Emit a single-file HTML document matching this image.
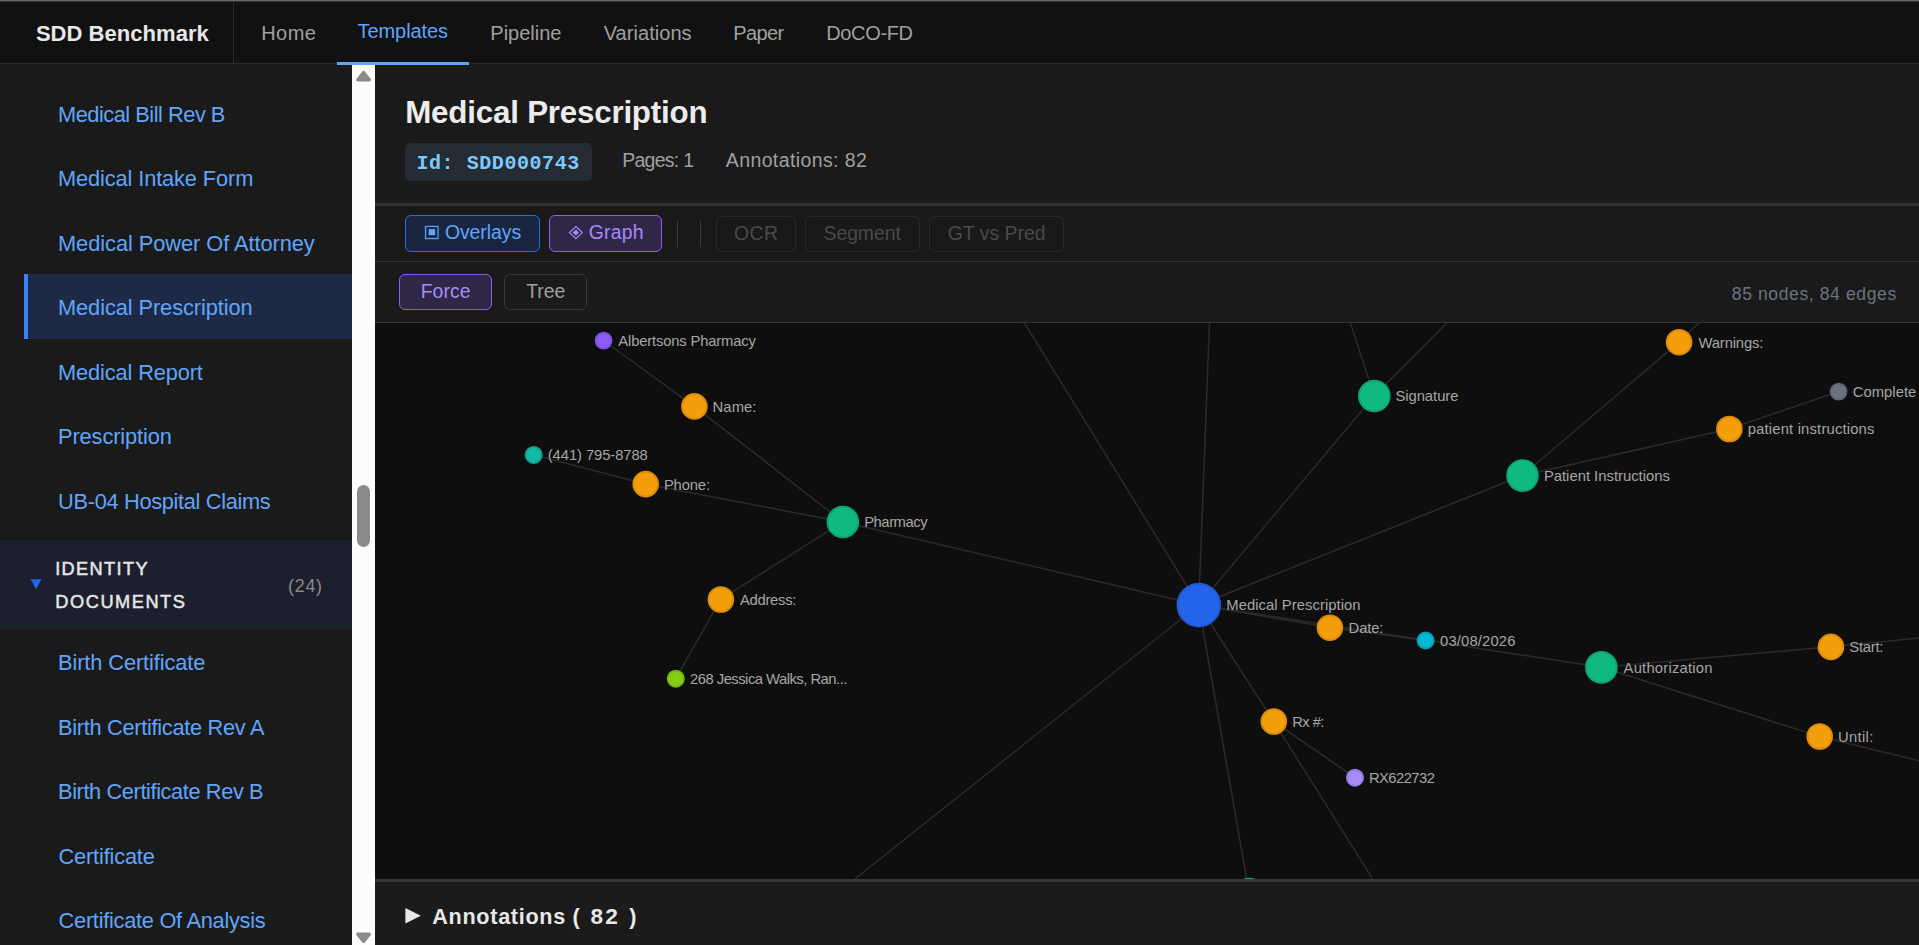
<!DOCTYPE html>
<html lang="en">
<head>
<meta charset="utf-8">
<title>SDD Benchmark - Medical Prescription</title>
<style>

html,body{margin:0;padding:0}
body{width:1919px;height:945px;overflow:hidden;position:relative;background:#1a1a1a;font-family:"Liberation Sans",sans-serif;color:#e5e5e5}
header,nav,aside,main,section,ul,li,details,summary,h1,code,.cat,.tools,.graphctl{display:block;margin:0;padding:0;border:0;list-style:none;position:static}
summary::-webkit-details-marker{display:none}
a{text-decoration:none}
button{all:unset}
.abs{position:absolute}
.tx{position:absolute;white-space:pre;line-height:1;margin:0;padding:0}
.topline0{left:0;top:0;width:1919px;height:1px;background:#676767}
.topline1{left:0;top:1px;width:1919px;height:1px;background:#323232}
.nav{left:0;top:2px;width:1919px;height:61px;background:#111111}
.navborder{left:0;top:63px;width:1919px;height:1px;background:#2a2a2a}
.navdiv{left:233px;top:2px;width:1px;height:62px;background:#2a2a2a}
.navactive{left:337px;top:62px;width:132px;height:3px;background:#60a5fa;z-index:3}
.sidebar{left:0;top:64px;width:352px;height:881px;background:#1a1a1a}
.item-active{left:24px;top:274px;width:328px;height:65px;background:#1e2945;box-sizing:border-box;border-left:4px solid #3b82f6}
.section{left:0;top:540px;width:352px;height:89px;background:#1c202e}
.sbar{left:352px;top:65px;width:23px;height:880px;background:#fcfcfc}
.thumb{left:357px;top:485px;width:13px;height:62px;border-radius:6.5px;background:#8b8b8b}
.main{left:375px;top:64px;width:1544px;height:881px;background:#1a1a1a}
.hdrborder{left:375px;top:203px;width:1544px;height:3px;background:#333333}
.toolbar{left:375px;top:206px;width:1544px;height:55px;background:#191919}
.tbborder{left:375px;top:261px;width:1544px;height:1px;background:#333333}
.gctl{left:375px;top:262px;width:1544px;height:60px;background:#1a1a1a}
.gborder{left:375px;top:322px;width:1544px;height:1px;background:#333333}
.graph{left:375px;top:323px;width:1544px;height:556px;background:#0e0e0e}
.graphbottom{left:375px;top:879px;width:1544px;height:3px;background:#353535}
.annot{left:375px;top:882px;width:1544px;height:63px;background:#1b1b1b}
.idbadge{left:405px;top:143px;width:187px;height:38px;border-radius:5px;background:#252b33}
.btn{position:absolute;box-sizing:border-box;border-radius:6px;border:1px solid #333;display:block;overflow:visible}
.sep{position:absolute;width:1.25px;background:#3a3a3a;top:220px;height:27px}

</style>
</head>
<body>
<div class="abs topline0"></div><div class="abs topline1"></div>
<header>
<div class="abs nav"></div><div class="abs navborder"></div><div class="abs navdiv"></div>
<a class="tx" href="#" style="left:35.88px;top:23.00px;font-family:'Liberation Sans', sans-serif;font-size:22px;font-weight:700;color:#e8e8e8;letter-spacing:0.045px;">SDD Benchmark</a>
<nav>
<a class="tx" href="#" style="left:261.20px;top:23.00px;font-family:'Liberation Sans', sans-serif;font-size:20px;font-weight:400;color:#a0a0a0;letter-spacing:0.465px;">Home</a>
<a class="tx active" href="#" style="left:357.56px;top:21.00px;font-family:'Liberation Sans', sans-serif;font-size:20px;font-weight:400;color:#60a5fa;letter-spacing:-0.075px;">Templates</a>
<a class="tx" href="#" style="left:490.30px;top:23.00px;font-family:'Liberation Sans', sans-serif;font-size:20px;font-weight:400;color:#a0a0a0;letter-spacing:-0.011px;">Pipeline</a>
<a class="tx" href="#" style="left:603.71px;top:23.00px;font-family:'Liberation Sans', sans-serif;font-size:20px;font-weight:400;color:#a0a0a0;letter-spacing:0.052px;">Variations</a>
<a class="tx" href="#" style="left:733.30px;top:23.00px;font-family:'Liberation Sans', sans-serif;font-size:20px;font-weight:400;color:#a0a0a0;letter-spacing:-0.647px;">Paper</a>
<a class="tx" href="#" style="left:826.30px;top:23.00px;font-family:'Liberation Sans', sans-serif;font-size:20px;font-weight:400;color:#a0a0a0;letter-spacing:-0.371px;">DoCO-FD</a>
<div class="abs navactive"></div>
</nav>
</header>
<aside>
<div class="abs sidebar"></div><div class="abs item-active"></div><div class="abs section"></div>
<ul>
<li><a class="tx" href="#" style="left:58.03px;top:104.00px;font-family:'Liberation Sans', sans-serif;font-size:21.8px;font-weight:400;color:#60a5fa;letter-spacing:-0.485px;">Medical Bill Rev B</a></li>
<li><a class="tx" href="#" style="left:58.03px;top:168.00px;font-family:'Liberation Sans', sans-serif;font-size:21.8px;font-weight:400;color:#60a5fa;letter-spacing:-0.120px;">Medical Intake Form</a></li>
<li><a class="tx" href="#" style="left:58.03px;top:233.00px;font-family:'Liberation Sans', sans-serif;font-size:21.8px;font-weight:400;color:#60a5fa;letter-spacing:-0.056px;">Medical Power Of Attorney</a></li>
<li><a class="tx" href="#" style="left:58.03px;top:297.00px;font-family:'Liberation Sans', sans-serif;font-size:21.8px;font-weight:400;color:#60a5fa;letter-spacing:-0.086px;">Medical Prescription</a></li>
<li><a class="tx" href="#" style="left:58.03px;top:362.00px;font-family:'Liberation Sans', sans-serif;font-size:21.8px;font-weight:400;color:#60a5fa;letter-spacing:-0.130px;">Medical Report</a></li>
<li><a class="tx" href="#" style="left:58.03px;top:426.00px;font-family:'Liberation Sans', sans-serif;font-size:21.8px;font-weight:400;color:#60a5fa;letter-spacing:-0.112px;">Prescription</a></li>
<li><a class="tx" href="#" style="left:58.11px;top:491.00px;font-family:'Liberation Sans', sans-serif;font-size:21.8px;font-weight:400;color:#60a5fa;letter-spacing:-0.330px;">UB-04 Hospital Claims</a></li>
</ul>
<div class="cat">
<svg class="abs" style="left:30px;top:578px" width="13" height="12" viewBox="0 0 13 12"><path d="M0.7 1.3 L11.5 1.3 L6.1 11.2 Z" fill="#2563eb"/></svg>
<span class="tx" style="left:55.17px;top:560.00px;font-family:'Liberation Sans', sans-serif;font-size:18.2px;font-weight:400;color:#e5e5e5;letter-spacing:1.366px;-webkit-text-stroke:0.5px #e5e5e5;">IDENTITY</span>
<span class="tx" style="left:55.35px;top:593.00px;font-family:'Liberation Sans', sans-serif;font-size:18.2px;font-weight:400;color:#e5e5e5;letter-spacing:1.541px;-webkit-text-stroke:0.5px #e5e5e5;">DOCUMENTS</span>
<span class="tx" style="left:288.12px;top:578.00px;font-family:'Liberation Sans', sans-serif;font-size:17.8px;font-weight:400;color:#8a8a8a;letter-spacing:0.741px;">(24)</span>
</div>
<ul>
<li><a class="tx" href="#" style="left:58.03px;top:652.00px;font-family:'Liberation Sans', sans-serif;font-size:21.8px;font-weight:400;color:#60a5fa;letter-spacing:-0.107px;">Birth Certificate</a></li>
<li><a class="tx" href="#" style="left:58.03px;top:717.00px;font-family:'Liberation Sans', sans-serif;font-size:21.8px;font-weight:400;color:#60a5fa;letter-spacing:-0.308px;">Birth Certificate Rev A</a></li>
<li><a class="tx" href="#" style="left:58.03px;top:781.00px;font-family:'Liberation Sans', sans-serif;font-size:21.8px;font-weight:400;color:#60a5fa;letter-spacing:-0.402px;">Birth Certificate Rev B</a></li>
<li><a class="tx" href="#" style="left:58.57px;top:846.00px;font-family:'Liberation Sans', sans-serif;font-size:21.8px;font-weight:400;color:#60a5fa;letter-spacing:-0.188px;">Certificate</a></li>
<li><a class="tx" href="#" style="left:58.57px;top:910.00px;font-family:'Liberation Sans', sans-serif;font-size:21.8px;font-weight:400;color:#60a5fa;letter-spacing:-0.275px;">Certificate Of Analysis</a></li>
</ul>
<div class="abs sbar"></div><div class="abs thumb"></div>
<svg class="abs" style="left:352px;top:65px" width="23" height="20" viewBox="0 0 23 20"><path d="M11.58 7.5 L17.3 14.7 L5.86 14.7 Z" fill="#8b8b8b" stroke="#8b8b8b" stroke-width="3.4" stroke-linejoin="round"/></svg>
<svg class="abs" style="left:352px;top:925px" width="23" height="20" viewBox="0 0 23 20"><path d="M5.86 9.1 L17.3 9.1 L11.58 16.4 Z" fill="#8b8b8b" stroke="#8b8b8b" stroke-width="3.4" stroke-linejoin="round"/></svg>
</aside>
<main>
<div class="abs main"></div>
<section class="dochead">
<h1 class="tx" style="left:405.24px;top:97.00px;font-family:'Liberation Sans', sans-serif;font-size:31.3px;font-weight:700;color:#ececec;letter-spacing:-0.200px;">Medical Prescription</h1>
<div class="abs idbadge"></div>
<code class="tx" style="left:416.50px;top:154.00px;font-family:'Liberation Mono', monospace;font-size:20px;font-weight:700;color:#7ccbfb;letter-spacing:0.556px;">Id: SDD000743</code>
<span class="tx" style="left:622.17px;top:151.00px;font-family:'Liberation Sans', sans-serif;font-size:19.5px;font-weight:400;color:#a0a0a0;letter-spacing:-0.726px;">Pages: 1</span>
<span class="tx" style="left:725.75px;top:151.00px;font-family:'Liberation Sans', sans-serif;font-size:19.5px;font-weight:400;color:#a0a0a0;letter-spacing:0.395px;">Annotations: 82</span>
</section>
<div class="abs hdrborder"></div><div class="abs toolbar"></div><div class="abs tbborder"></div><div class="abs gctl"></div><div class="abs gborder"></div>
<div class="tools">
<button class="btn" type="button" style="left:405px;top:215px;width:135px;height:37px;border-color:#2b6ae6;background:#1a2540"><svg class="abs" style="left:18px;top:9px" width="16" height="16" viewBox="0 0 16 16"><rect x="1.55" y="1.45" width="12.5" height="12.1" fill="none" stroke="#5a9ff5" stroke-width="1.3"/><rect x="4.7" y="4.1" width="6.4" height="6.1" fill="#60a5fa"/></svg><span class="tx" style="left:38.92px;top:7.00px;font-family:'Liberation Sans', sans-serif;font-size:19.4px;font-weight:400;color:#60a5fa;letter-spacing:-0.045px;">Overlays</span></button>
<button class="btn" type="button" style="left:549px;top:215px;width:113px;height:37px;border-color:#8b5cf6;background:#302645"><svg class="abs" style="left:18px;top:8px" width="17" height="17" viewBox="0 0 17 17"><path d="M7.9 2.5 L14.3 8.6 L7.9 14.7 L1.5 8.6 Z" fill="none" stroke="#a78bfa" stroke-width="1.2"/><path d="M7.9 5.5 L11.1 8.6 L7.9 11.7 L4.7 8.6 Z" fill="#a78bfa"/></svg><span class="tx" style="left:38.71px;top:7.00px;font-family:'Liberation Sans', sans-serif;font-size:19.4px;font-weight:400;color:#a78bfa;letter-spacing:0.233px;">Graph</span></button>
<div class="sep" style="left:677px"></div><div class="sep" style="left:699.5px"></div>
<button class="btn" type="button" disabled style="left:716px;top:216px;width:80px;height:36px;border-color:#292929"><span class="tx" style="left:16.92px;top:7.00px;font-family:'Liberation Sans', sans-serif;font-size:19.4px;font-weight:400;color:#494949;letter-spacing:0.460px;">OCR</span></button>
<button class="btn" type="button" disabled style="left:805px;top:216px;width:115px;height:36px;border-color:#292929"><span class="tx" style="left:17.53px;top:7.00px;font-family:'Liberation Sans', sans-serif;font-size:19.4px;font-weight:400;color:#494949;letter-spacing:-0.049px;">Segment</span></button>
<button class="btn" type="button" disabled style="left:929px;top:216px;width:135px;height:36px;border-color:#292929"><span class="tx" style="left:17.81px;top:7.00px;font-family:'Liberation Sans', sans-serif;font-size:19.4px;font-weight:400;color:#494949;letter-spacing:0.006px;">GT vs Pred</span></button>
</div>
<div class="graphctl">
<button class="btn" type="button" style="left:399px;top:274px;width:93px;height:36px;border-color:#8b5cf6;background:#302645"><span class="tx" style="left:20.67px;top:7.00px;font-family:'Liberation Sans', sans-serif;font-size:19.4px;font-weight:400;color:#a78bfa;letter-spacing:0.096px;">Force</span></button>
<button class="btn" type="button" style="left:504px;top:274px;width:83px;height:36px;border-color:#363636"><span class="tx" style="left:21.19px;top:7.00px;font-family:'Liberation Sans', sans-serif;font-size:19.4px;font-weight:400;color:#a0a0a0;letter-spacing:-0.002px;">Tree</span></button>
<span class="tx" style="left:1731.78px;top:286.00px;font-family:'Liberation Sans', sans-serif;font-size:17.6px;font-weight:400;color:#6b7280;letter-spacing:0.579px;">85 nodes, 84 edges</span>
</div>
<div class="abs graph"></div>
<svg class="abs" style="left:375px;top:323px" width="1544" height="556" viewBox="375 323 1544 556">
<g stroke="#2b2b2b" stroke-width="1.5" fill="none">
<line x1="603.5" y1="340.5" x2="694.3" y2="406.3"/>
<line x1="694.3" y1="406.3" x2="842.8" y2="521.9"/>
<line x1="533.6" y1="454.8" x2="645.6" y2="484.0"/>
<line x1="645.6" y1="484.0" x2="842.8" y2="521.9"/>
<line x1="842.8" y1="521.9" x2="720.8" y2="599.4"/>
<line x1="720.8" y1="599.4" x2="675.7" y2="678.6"/>
<line x1="842.8" y1="521.9" x2="1198.7" y2="605.0"/>
<line x1="1198.7" y1="605.0" x2="1374.2" y2="395.9"/>
<line x1="1198.7" y1="605.0" x2="1522.4" y2="475.5"/>
<line x1="1522.4" y1="475.5" x2="1679.0" y2="342.1"/>
<line x1="1522.4" y1="475.5" x2="1729.3" y2="428.9"/>
<line x1="1729.3" y1="428.9" x2="1838.5" y2="391.5"/>
<line x1="1374.2" y1="395.9" x2="1226.3" y2="-57.2"/>
<line x1="1374.2" y1="395.9" x2="1682.3" y2="86.6"/>
<line x1="1198.7" y1="605.0" x2="814.1" y2="-17.3"/>
<line x1="1198.7" y1="605.0" x2="1224.8" y2="-76.7"/>
<line x1="1198.7" y1="605.0" x2="1329.8" y2="627.6"/>
<line x1="1329.8" y1="627.6" x2="1425.5" y2="640.4"/>
<line x1="1198.7" y1="605.0" x2="1601.3" y2="667.3"/>
<line x1="1601.3" y1="667.3" x2="1830.8" y2="646.8"/>
<line x1="1830.8" y1="646.8" x2="2317.0" y2="598.3"/>
<line x1="1601.3" y1="667.3" x2="1819.6" y2="736.4"/>
<line x1="1819.6" y1="736.4" x2="2307.6" y2="855.7"/>
<line x1="1198.7" y1="605.0" x2="1273.7" y2="721.4"/>
<line x1="1273.7" y1="721.4" x2="1354.9" y2="777.6"/>
<line x1="1273.7" y1="721.4" x2="1585.5" y2="1217.7"/>
<line x1="1198.7" y1="605.0" x2="1249.3" y2="894.0"/>
<line x1="1198.7" y1="605.0" x2="542.5" y2="1128.0"/>
<line x1="1679.0" y1="342.1" x2="1986.7" y2="45.3"/>
</g>
<g stroke-width="2">
<circle cx="603.6" cy="340.6" r="7.90" fill="#8b5cf6" stroke="#7d52dd"/>
<circle cx="694.4" cy="406.4" r="12.30" fill="#f59e0b" stroke="#dc8e09"/>
<circle cx="533.7" cy="454.9" r="8.00" fill="#14b8a6" stroke="#12a595"/>
<circle cx="645.7" cy="484.1" r="12.30" fill="#f59e0b" stroke="#dc8e09"/>
<circle cx="842.9" cy="522.0" r="15.30" fill="#10b981" stroke="#0ea674"/>
<circle cx="720.9" cy="599.5" r="12.30" fill="#f59e0b" stroke="#dc8e09"/>
<circle cx="675.8" cy="678.7" r="8.00" fill="#84cc16" stroke="#76b713"/>
<circle cx="1198.8" cy="605.1" r="21.30" fill="#2563eb" stroke="#2159d3"/>
<circle cx="1374.3" cy="396.0" r="15.30" fill="#10b981" stroke="#0ea674"/>
<circle cx="1522.5" cy="475.6" r="15.30" fill="#10b981" stroke="#0ea674"/>
<circle cx="1679.1" cy="342.2" r="12.30" fill="#f59e0b" stroke="#dc8e09"/>
<circle cx="1838.6" cy="391.6" r="7.90" fill="#6b7280" stroke="#606673"/>
<circle cx="1729.4" cy="429.0" r="12.30" fill="#f59e0b" stroke="#dc8e09"/>
<circle cx="1329.9" cy="627.7" r="12.30" fill="#f59e0b" stroke="#dc8e09"/>
<circle cx="1425.6" cy="640.5" r="8.00" fill="#06b6d4" stroke="#05a3be"/>
<circle cx="1601.4" cy="667.4" r="15.30" fill="#10b981" stroke="#0ea674"/>
<circle cx="1830.9" cy="646.9" r="12.30" fill="#f59e0b" stroke="#dc8e09"/>
<circle cx="1819.7" cy="736.5" r="12.30" fill="#f59e0b" stroke="#dc8e09"/>
<circle cx="1273.8" cy="721.5" r="12.30" fill="#f59e0b" stroke="#dc8e09"/>
<circle cx="1355.0" cy="777.7" r="8.00" fill="#a78bfa" stroke="#967de1"/>
<circle cx="1249.4" cy="894.1" r="15.30" fill="#10b981" stroke="#0ea674"/>
</g>
<g font-family="Liberation Sans, sans-serif" font-size="14.8" fill="#a6a6a6">
<text x="618.35" y="346.00" letter-spacing="-0.174">Albertsons Pharmacy</text>
<text x="712.58" y="411.80" letter-spacing="0.076">Name:</text>
<text x="547.79" y="460.30" letter-spacing="-0.088">(441) 795-8788</text>
<text x="663.88" y="489.50" letter-spacing="-0.147">Phone:</text>
<text x="864.18" y="527.40" letter-spacing="-0.451">Pharmacy</text>
<text x="740.05" y="604.90" letter-spacing="-0.296">Address:</text>
<text x="690.01" y="684.10" letter-spacing="-0.514">268 Jessica Walks, Ran...</text>
<text x="1226.28" y="609.90" letter-spacing="0.058">Medical Prescription</text>
<text x="1395.38" y="401.40" letter-spacing="-0.031">Signature</text>
<text x="1543.88" y="481.00" letter-spacing="0.008">Patient Instructions</text>
<text x="1698.47" y="347.60" letter-spacing="-0.137">Warnings:</text>
<text x="1852.78" y="397.00" letter-spacing="0.022">Complete</text>
<text x="1747.71" y="434.40" letter-spacing="0.176">patient instructions</text>
<text x="1348.58" y="633.10" letter-spacing="-0.125">Date:</text>
<text x="1440.03" y="645.90" letter-spacing="0.147">03/08/2026</text>
<text x="1623.55" y="672.80" letter-spacing="0.216">Authorization</text>
<text x="1849.28" y="652.30" letter-spacing="-0.242">Start:</text>
<text x="1837.91" y="741.90" letter-spacing="0.334">Until:</text>
<text x="1292.18" y="726.90" letter-spacing="-0.574">Rx #:</text>
<text x="1368.88" y="783.10" letter-spacing="-0.555">RX622732</text>
</g></svg>
<div class="abs graphbottom"></div><div class="abs annot"></div>
<details><summary>
<svg class="abs" style="left:404px;top:906px" width="18" height="19" viewBox="0 0 18 19"><path d="M1.4 2 L16.8 9.8 L1.4 17.5 Z" fill="#e8e8e8"/></svg>
<span class="tx" style="left:432.34px;top:906.00px;font-family:'Liberation Sans', sans-serif;font-size:21.6px;font-weight:700;color:#e8e8e8;letter-spacing:0.689px;">Annotations (</span>
<span class="tx" style="left:590.50px;top:906.00px;font-family:'Liberation Sans', sans-serif;font-size:22.6px;font-weight:700;color:#e8e8e8;letter-spacing:2.149px;">82</span>
<span class="tx" style="left:629.18px;top:906.00px;font-family:'Liberation Sans', sans-serif;font-size:21.6px;font-weight:700;color:#e8e8e8;letter-spacing:0.000px;">)</span>
</summary></details>
</main>
</body>
</html>
